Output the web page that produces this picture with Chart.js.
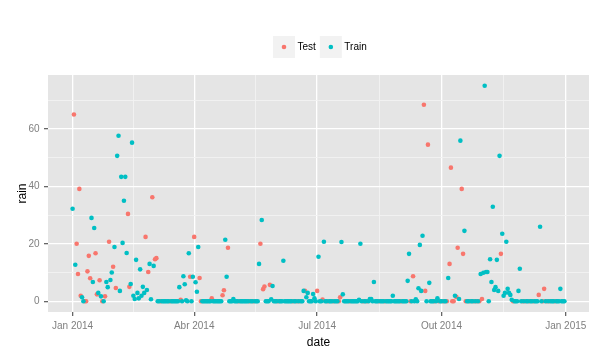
<!DOCTYPE html>
<html><head><meta charset="utf-8">
<script src="https://cdn.jsdelivr.net/npm/chart.js@4.4.1/dist/chart.umd.min.js"></script>
<style>html,body{margin:0;padding:0;background:#fff}#wrap{width:609px;height:357px}</style>
</head><body><div id="wrap"><canvas id="c" width="609" height="357"></canvas></div>
<script>
// Daily rain, one value per day starting 2014-01-01 (day index 0)
const rain = [
32.2,65,12.7,20.0,9.5,39.1,1.9,1.4,0,0,
0,10.4,15.8,8.0,29.0,6.7,25.5,16.7,2.4,2.9,
7.3,1.7,0,0,1.7,6.7,4.9,20.7,7.4,10.0,
12.0,18.9,4.6,50.6,57.6,3.6,43.3,20.3,35.0,43.3,
16.8,30.4,5.0,6.0,55.2,1.9,0.8,14.4,2.9,1.0,
11.1,1.9,5.0,2.9,22.4,3.9,10.2,13.0,0.7,36.2,
12.3,14.6,15.0,0,0,0,0,0,0,0,
0,0,0,0,0,0,0,0,0,4.9,
0.5,0,8.7,5.9,0.3,0,16.7,8.5,0,8.5,
22.4,6.6,3.3,18.9,8.1,0,0,0,0,0,
0,0,0,1.0,0,0,0,0,0,0,
0,2.1,3.8,21.4,8.5,18.6,0,0,0,0.8,
0,0,0,0,0,0,0,0,0,0,
0,0,0,0,0,0,0,0,13.0,20.0,
28.3,4.2,5.1,0,0,0,5.7,0.7,5.3,0,
0,0,0,0,0,0,14.1,0,0,0,
0,0,0,0,0,0,0,0,0,0,
0,3.6,3.6,1.4,2.9,0,0,0,2.5,1.0,
0,3.6,15.5,0,0,0.6,20.7,0,0,0,
0,0,0,0,0,0,0,0,1.4,20.6,
2.4,0,0,0,0,0,0,0,0,0,
0,0,0.5,20.0,0,0,0,0,0,0,
0.8,0.8,0,6.7,0,0,0,0,0,0,
0,0,0,0,0,0,0,1.9,0,0,
0,0,0,0,0,0,0,0,7.1,16.5,
0,0,8.7,0,0.7,0,4.5,19.6,3.6,22.8,
68.4,3.6,0,54.5,6.4,0,0,0,0,0,
1.0,0,0,0,0,0,0,0,8.1,13.0,
46.5,0,0,1.9,1.5,18.6,0.8,55.9,39.1,16.5,
24.5,0,0,0,0,0,0,0,0,0,
0,0,9.5,0.8,9.9,75.0,10.2,10.2,0,14.6,
6.7,32.9,3.9,4.9,14.4,3.6,50.6,16.5,23.5,1.9,
2.9,20.7,4.3,2.9,2.2,0.5,0,0,0,0,
3.6,11.3,0,0,0,0,0,0,0,0,
0,0,0,0,0,2.2,25.9,0,0,4.3,
0,0,0,0,0,0,0,0,0,0,
0,4.3,0,0,0
];
// Day indices that belong to the Test set (all others are Train)
const testDays = [1,3,4,5,6,9,10,11,12,13,17,18,20,22,24,27,30,32,41,42,54,56,59,61,62,65,72,80,87,90,94,95,103,111,112,115,123,131,134,139,141,142,146,152,163,166,168,172,181,185,189,193,197,198,205,215,218,227,231,243,250,252,260,261,263,268,271,274,277,279,280,281,282,284,285,288,289,291,294,297,299,301,303,317,326,333,335,338,341,345,348,349,351,353,357];
const seriesNames = ['Test','Train'];
const seriesColors = ['#F8766D','#00BFC4'];
const xTickDays = [0,90,181,273,365];
const xTickLabels = ['Jan 2014','Abr 2014','Jul 2014','Out 2014','Jan 2015'];
const yTicks = [0,20,40,60];

const testSet = new Set(testDays);
const testPts = [], trainPts = [];
rain.forEach((v,i)=>{ (testSet.has(i)?testPts:trainPts).push({x:i,y:v}); });

const xMinor = [];
for (let i=0;i<xTickDays.length-1;i++) xMinor.push((xTickDays[i]+xTickDays[i+1])/2);
const yMinor = [];
for (let i=0;i<yTicks.length;i++) yMinor.push(yTicks[i]+(yTicks[1]-yTicks[0])/2);
const xAll = xTickDays.concat(xMinor).sort((a,b)=>a-b);
const yAll = yTicks.concat(yMinor).sort((a,b)=>a-b);

const xMin = -18.2, xMax = 382.2, yMin = -3.75, yMax = 78.75;
const tickFont = {family:'"Liberation Sans", Arial, sans-serif', size:10};
const titleFont = {family:'"Liberation Sans", Arial, sans-serif', size:12};

const bgPlugin = {
  id:'panelBg',
  beforeDraw(chart){
    const {ctx, chartArea:a} = chart;
    ctx.save(); ctx.fillStyle='#E5E5E5';
    ctx.fillRect(a.left,a.top,a.right-a.left,a.bottom-a.top);
    ctx.restore();
  }
};
const legendPlugin = {
  id:'ggLegend',
  afterDraw(chart){
    const ctx = chart.ctx;
    ctx.save();
    ctx.font = '10px "Liberation Sans", Arial, sans-serif';
    ctx.textBaseline = 'middle';
    let x = 273; const top = 36, size = 22;
    chart.data.datasets.slice().sort((a,b)=>seriesNames.indexOf(a.label)-seriesNames.indexOf(b.label)).forEach(ds=>{
      ctx.fillStyle = '#F2F2F2';
      ctx.fillRect(x, top, size, size);
      ctx.fillStyle = ds.backgroundColor;
      ctx.beginPath(); ctx.arc(x+size/2, top+size/2, 2.3, 0, Math.PI*2); ctx.fill();
      ctx.fillStyle = '#000';
      ctx.fillText(ds.label, x+size+2.5, top+size/2);
      x += size + 2.5 + ctx.measureText(ds.label).width + 4;
    });
    ctx.restore();
  }
};

const isMajorX = v => xTickDays.indexOf(v) >= 0;
const isMajorY = v => yTicks.indexOf(v) >= 0;

new Chart(document.getElementById('c'), {
  type:'scatter',
  data:{ datasets:[
    {label:seriesNames[0], data:testPts, backgroundColor:seriesColors[0], borderWidth:0, pointRadius:2.3, order:2},
    {label:seriesNames[1], data:trainPts, backgroundColor:seriesColors[1], borderWidth:0, pointRadius:2.3, order:1}
  ]},
  options:{
    responsive:false, animation:false, devicePixelRatio:1,
    layout:{padding:{left:0,right:20,top:75,bottom:0}},
    plugins:{legend:{display:false}, tooltip:{enabled:false}},
    scales:{
      x:{
        type:'linear', min:xMin, max:xMax,
        afterBuildTicks(s){ s.ticks = xAll.map(v=>({value:v})); },
        afterFit(s){ s.height = 45; },
        ticks:{autoSkip:false, maxRotation:0, minRotation:0, font:tickFont, color:'#7F7F7F', padding:4,
          callback:(v)=>{ const i = xTickDays.indexOf(v); return i>=0 ? xTickLabels[i] : ''; }},
        grid:{
          color:c=> isMajorX(c.tick && c.tick.value) ? '#FFFFFF' : '#F2F2F2',
          lineWidth:c=> isMajorX(c.tick && c.tick.value) ? 1.3 : 0.9,
          tickColor:c=> isMajorX(c.tick && c.tick.value) ? '#666666' : 'rgba(0,0,0,0)',
          tickLength:4, drawTicks:true
        },
        border:{display:false},
        title:{display:true, text:'date', font:titleFont, color:'#000', padding:{top:0,bottom:7.3}}
      },
      y:{
        type:'linear', min:yMin, max:yMax,
        afterBuildTicks(s){ s.ticks = yAll.map(v=>({value:v})); },
        afterFit(s){ s.width = 48; },
        ticks:{autoSkip:false, font:tickFont, color:'#7F7F7F', padding:4.5,
          callback:(v)=> isMajorY(v) ? String(v) : ''},
        grid:{
          color:c=> isMajorY(c.tick && c.tick.value) ? '#FFFFFF' : '#F2F2F2',
          lineWidth:c=> isMajorY(c.tick && c.tick.value) ? 1.3 : 0.9,
          tickColor:c=> isMajorY(c.tick && c.tick.value) ? '#666666' : 'rgba(0,0,0,0)',
          tickLength:4, drawTicks:true
        },
        border:{display:false},
        title:{display:true, text:'rain', font:titleFont, color:'#000', padding:{top:15,bottom:0}}
      }
    }
  },
  plugins:[bgPlugin, legendPlugin]
});
</script></body></html>
